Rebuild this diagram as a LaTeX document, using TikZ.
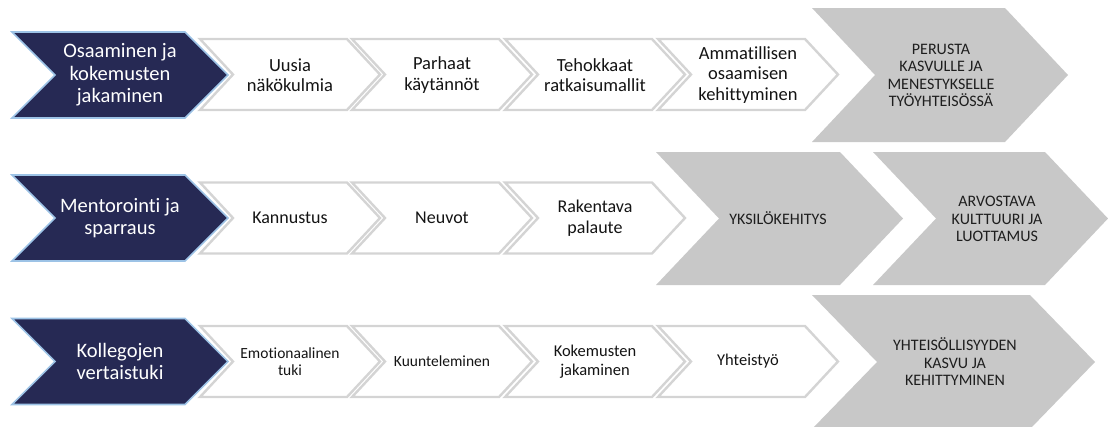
\documentclass[tikz,border=0pt]{standalone}
\usepackage{fontspec}
\setmainfont{Carlito}[Ligatures=NoCommon]
\definecolor{navy}{RGB}{38,41,84}
\definecolor{navyedge}{RGB}{157,195,230}
\definecolor{lightedge}{RGB}{212,212,212}
\definecolor{greyfill}{RGB}{200,200,200}
\definecolor{greytext}{RGB}{30,30,30}
\definecolor{steptextcol}{RGB}{20,20,20}

% chevron outline: style, left x, top-right x, middle y, half height, point depth
\newcommand\drawchev[6]{%
  \path[#1] (#2,#4-#5) -- (#3,#4-#5) -- (#3+#6,#4) -- (#3,#4+#5)
    -- (#2,#4+#5) -- (#2+#6,#4) -- cycle;}

\tikzset{
  leadchev/.style={fill=navy, draw=navyedge, line width=1.6pt, line join=miter},
  stepchev/.style={fill=white, draw=lightedge, line width=2.4pt, line join=miter},
  goalchev/.style={fill=greyfill},
  leadtext/.style={text=white, align=center, font=\fontsize{20.5}{22.5}\selectfont},
  steptext/.style={text=steptextcol, align=center, font=\fontsize{18.5}{20.5}\selectfont},
  steptextsmall/.style={text=steptextcol, align=center, font=\fontsize{18}{21}\selectfont},
  steptextmid/.style={text=steptextcol, align=center, font=\fontsize{16.5}{18.5}\selectfont},
  steptextmini/.style={text=steptextcol, align=center, font=\fontsize{15.5}{17.5}\selectfont},
  goaltext/.style={text=greytext, align=center, font=\fontsize{16}{17.5}\selectfont},
}

\begin{document}
\begin{tikzpicture}[x=1pt, y=-1pt]
\useasboundingbox (0,0) rectangle (1108,426);

% ---------- row 1 ----------
\drawchev{goalchev}{812}{1005}{75}{67}{63}
\drawchev{leadchev}{12}{185}{75}{43}{43}
\foreach \x in {200,352,505,658}{\drawchev{stepchev}{\x}{\x+147}{74.5}{35.5}{33}}
\node[leadtext] (a0) at (120,75) {Osaaminen ja\\kokemusten\\jakaminen};
\node[steptext] (a1) at (290,75) {Uusia\\näkökulmia};
\node[steptext] (a2) at (442,75) {Parhaat\\käytännöt};
\node[steptext] (a3) at (595,75) {Tehokkaat\\ratkaisumallit};
\node[steptext] (a4) at (748,75) {Ammatillisen\\osaamisen\\kehittyminen};
\node[goaltext] (a5) at (941,75.5) {PERUSTA\\KASVULLE JA\\MENESTYKSELLE\\TYÖYHTEISÖSSÄ};

% ---------- row 2 ----------
\drawchev{goalchev}{656}{840}{218.5}{66.5}{63}
\drawchev{goalchev}{873}{1045}{218.5}{66.5}{63}
\drawchev{leadchev}{12}{185}{218}{43}{43}
\foreach \x in {200,352,505}{\drawchev{stepchev}{\x}{\x+147}{218}{35.5}{33}}
\node[leadtext] (b0) at (120,218) {Mentorointi ja\\sparraus};
\node[steptextsmall] (b1) at (290,218) {Kannustus};
\node[steptextsmall] (b2) at (442,218) {Neuvot};
\node[steptextsmall] (b3) at (595,218) {Rakentava\\palaute};
\node[goaltext] (b4) at (778,218) {YKSILÖKEHITYS};
\node[goaltext] (b5) at (997,219) {ARVOSTAVA\\KULTTUURI JA\\LUOTTAMUS};

% ---------- row 3 ----------
\drawchev{goalchev}{812}{1030}{362}{67}{65}
\drawchev{leadchev}{12}{185}{361.5}{43}{43}
\foreach \x in {200,352,505,658}{\drawchev{stepchev}{\x}{\x+147}{361.5}{35.5}{33}}
\node[leadtext] (c0) at (120,361.5) {Kollegojen\\vertaistuki};
\node[steptextmini] (c1) at (290,361.5) {Emotionaalinen\\tuki};
\node[steptextmini] (c2) at (442,361.5) {Kuunteleminen};
\node[steptextmid] (c3) at (595,361.5) {Kokemusten\\jakaminen};
\node[steptextmid] (c4) at (748,361.5) {Yhteistyö};
\node[goaltext] (c5) at (955,362) {YHTEISÖLLISYYDEN\\KASVU JA\\KEHITTYMINEN};
\end{tikzpicture}
\end{document}
